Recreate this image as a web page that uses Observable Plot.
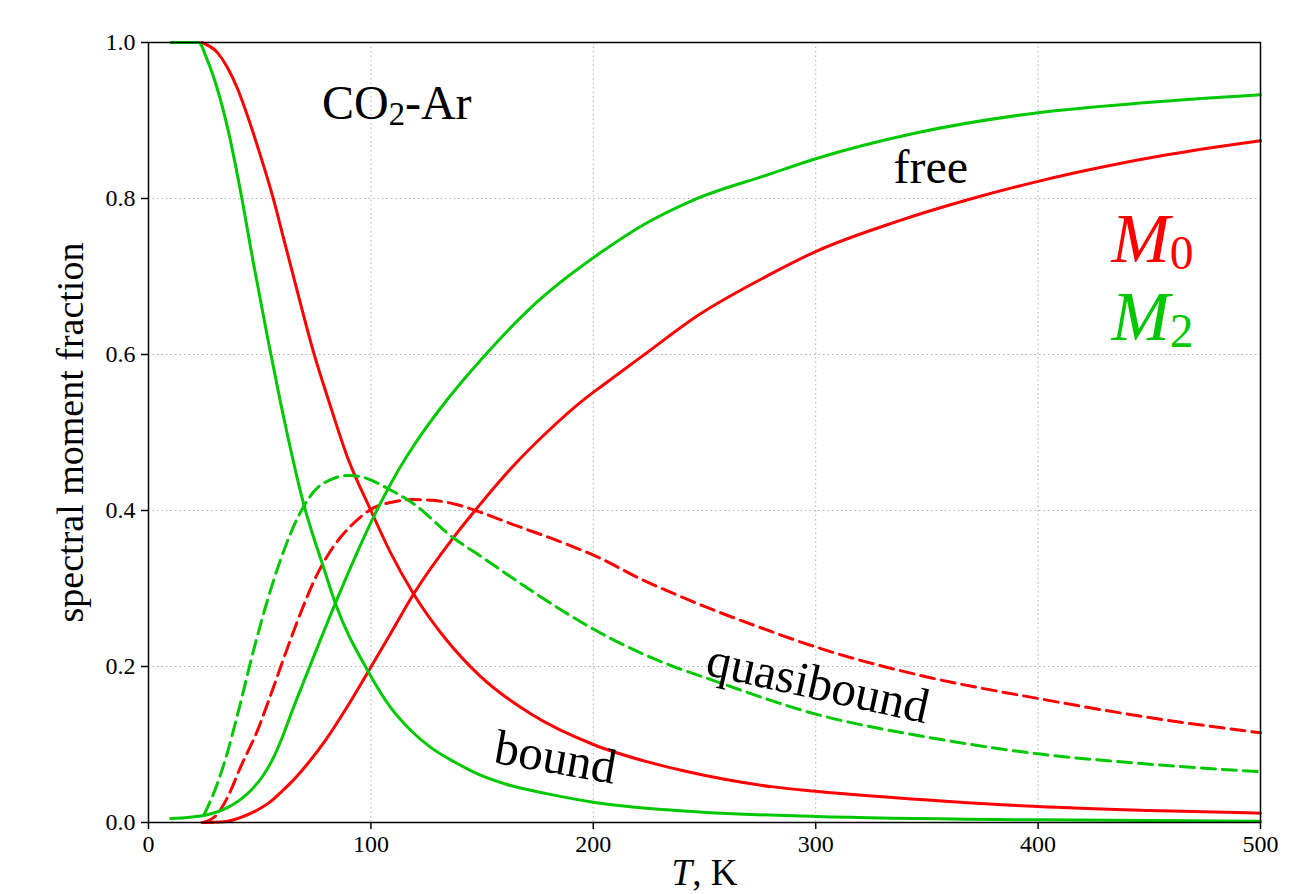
<!DOCTYPE html>
<html>
<head>
<meta charset="utf-8">
<script src="https://cdn.jsdelivr.net/npm/d3@7"></script>
<script src="https://cdn.jsdelivr.net/npm/@observablehq/plot@0.6"></script>
<style>
  html, body { margin: 0; padding: 0; background: #fff; }
  #chart svg { display: block; }
</style>
</head>
<body>
<div id="chart"></div>
<script>
// Fractions of the spectral moments M0 and M2 for CO2-Ar, as [T (K), fraction]
const m0Bound = [[24,1.0],[31,0.987],[35.5,0.968],[40,0.941],[44.5,0.906],[50,0.858],[56,0.801],[61,0.746],[68,0.669],[74,0.605],[81,0.541],[89.5,0.468],[100,0.4],[109,0.345],[119,0.294],[134,0.234],[149,0.188],[172,0.139],[200,0.1],[224,0.078],[241,0.066],[280,0.046],[300,0.04],[360,0.027],[400,0.0205],[450,0.0155],[500,0.012]];
const m0Quasi = [[24.7,0],[31,0.011],[35.5,0.032],[41.4,0.071],[49,0.118],[54,0.156],[62,0.22],[68.3,0.268],[76,0.319],[83,0.353],[92,0.383],[101,0.403],[110,0.411],[119,0.414],[128,0.413],[138,0.408],[150,0.397],[164,0.382],[187,0.358],[203,0.339],[220,0.314],[239,0.29],[250,0.277],[275,0.25],[300,0.225],[351,0.186],[400,0.159],[449,0.135],[500,0.115]];
const m0Free = [[24,0],[34,0.001],[40,0.005],[49,0.016],[55,0.027],[60,0.04],[65,0.054],[72,0.077],[79,0.103],[89.5,0.149],[98.5,0.192],[109,0.243],[119,0.292],[137,0.365],[148,0.404],[164,0.457],[179,0.5],[197,0.545],[204,0.56],[223,0.6],[247,0.65],[279,0.702],[300,0.732],[336,0.77],[368,0.798],[400,0.822],[430,0.841],[458,0.856],[500,0.874]];
const m2Bound = [[10,1.0],[22.5,1.0],[26.5,0.977],[31,0.94],[36,0.885],[41,0.815],[47,0.72],[53.5,0.622],[59.4,0.538],[63,0.49],[69.7,0.409],[78.7,0.327],[84,0.281],[98.5,0.195],[109,0.147],[118,0.118],[127,0.096],[138,0.077],[149,0.061],[162,0.048],[179,0.037],[200,0.026],[239,0.015],[300,0.0077],[400,0.0034],[500,0.0017]];
const m2Quasi = [[25,0.01],[31,0.05],[35.5,0.09],[40,0.138],[48,0.229],[53.5,0.285],[59.4,0.337],[65,0.378],[74,0.423],[83,0.441],[90,0.445],[96,0.443],[109,0.426],[119,0.409],[137,0.365],[149,0.342],[167,0.307],[187,0.27],[200,0.248],[236,0.2],[250,0.186],[300,0.139],[351,0.109],[400,0.088],[449,0.075],[500,0.065]];
const m2Free = [[10,0.005],[26.5,0.01],[35.5,0.019],[46,0.041],[51,0.058],[56,0.082],[60,0.108],[65,0.146],[70,0.182],[84,0.281],[93,0.341],[103,0.402],[111,0.445],[119,0.482],[134,0.541],[150,0.595],[175,0.668],[204,0.732],[223,0.767],[245,0.798],[279,0.831],[300,0.851],[345,0.884],[400,0.91],[449,0.923],[500,0.933]];

const xTicks = [0, 100, 200, 300, 400, 500];
const yTicks = [0, 0.2, 0.4, 0.6, 0.8, 1.0];

const red = "#ff0000";
const green = "#00c800";

// Series table: moment, component, line colour, dashed or solid
const series = [
  {moment: "M0", part: "bound", color: red, dashed: false, points: m0Bound},
  {moment: "M0", part: "free", color: red, dashed: false, points: m0Free},
  {moment: "M0", part: "quasibound", color: red, dashed: true, points: m0Quasi},
  {moment: "M2", part: "bound", color: green, dashed: false, points: m2Bound},
  {moment: "M2", part: "free", color: green, dashed: false, points: m2Free},
  {moment: "M2", part: "quasibound", color: green, dashed: true, points: m2Quasi}
];

const lineMarks = series.map(s => Plot.line(s.points, {
  x: d => d[0],
  y: d => d[1],
  stroke: s.color,
  strokeWidth: 3,
  strokeDasharray: s.dashed ? "14,7" : null,
  curve: "monotone-x"
}));

// In-plot annotations, placed in data coordinates
const notes = [
  {t: 78, v: 0.922, text: "CO2-Ar", size: 48, color: "black", rotate: 0, anchor: "start"},
  {t: 335, v: 0.84, text: "free", size: 48, color: "black", rotate: 0, anchor: "start"},
  {t: 183, v: 0.083, text: "bound", size: 49, color: "black", rotate: 10, anchor: "middle"},
  {t: 301, v: 0.178, text: "quasibound", size: 49, color: "black", rotate: 12.5, anchor: "middle"},
  {t: 433, v: 0.747, text: "M0", size: 70, color: red, rotate: 0, anchor: "start"},
  {t: 433, v: 0.647, text: "M2", size: 70, color: green, rotate: 0, anchor: "start"}
];

const noteMarks = notes.map(n => Plot.text([n], {
  x: "t", y: "v", text: "text",
  fontSize: n.size, fill: n.color, rotate: n.rotate,
  textAnchor: n.anchor, lineAnchor: "middle"
}));

const chart = Plot.plot({
  width: 1307,
  height: 894,
  marginLeft: 148,
  marginRight: 47,
  marginTop: 42,
  marginBottom: 72,
  style: {fontFamily: "Liberation Serif", fontSize: "24px", background: "white", color: "black"},
  x: {domain: [0, 500]},
  y: {domain: [0, 1]},
  marks: [
    Plot.gridX(xTicks, {stroke: "#b0b0b0", strokeOpacity: 1, strokeWidth: 1, strokeDasharray: "1.5,3"}),
    Plot.gridY(yTicks, {stroke: "#b0b0b0", strokeOpacity: 1, strokeWidth: 1, strokeDasharray: "1.5,3"}),
    ...lineMarks,
    ...noteMarks,
    Plot.frame({stroke: "black", strokeWidth: 1.5}),
    Plot.axisX(xTicks, {tickSize: 7, tickPadding: 5, strokeWidth: 1.5, fontSize: 24, label: null}),
    Plot.axisY(yTicks, {tickSize: 7, tickPadding: 6, strokeWidth: 1.5, fontSize: 24, label: null, tickFormat: d3.format(".1f")}),
    Plot.text(["spectral moment fraction"], {frameAnchor: "left", dx: -78, rotate: -90, fontSize: 38, textAnchor: "middle", lineAnchor: "middle"}),
    Plot.text(["T, K"], {frameAnchor: "bottom", dy: 51, fontSize: 37, textAnchor: "middle", lineAnchor: "middle"})
  ]
});

// Rich text: subscripts and italic symbols
const svg = d3.select(chart);
svg.selectAll("text").each(function () {
  const el = d3.select(this);
  const s = this.textContent;
  if (s === "CO2-Ar") {
    el.text(null);
    el.append("tspan").text("CO");
    el.append("tspan").attr("font-size", "68%").attr("dy", "0.18em").text("2");
    el.append("tspan").attr("dy", "-0.12em").text("-Ar");
  } else if (s === "M0" || s === "M2") {
    el.text(null);
    el.append("tspan").attr("font-style", "italic").text("M");
    el.append("tspan").attr("font-size", "68%").attr("dy", "0.15em").text(s.slice(1));
  } else if (s === "T, K") {
    el.text(null);
    el.append("tspan").attr("font-style", "italic").text("T");
    el.append("tspan").text(", K");
  }
});

document.getElementById("chart").appendChild(chart);
</script>
</body>
</html>
